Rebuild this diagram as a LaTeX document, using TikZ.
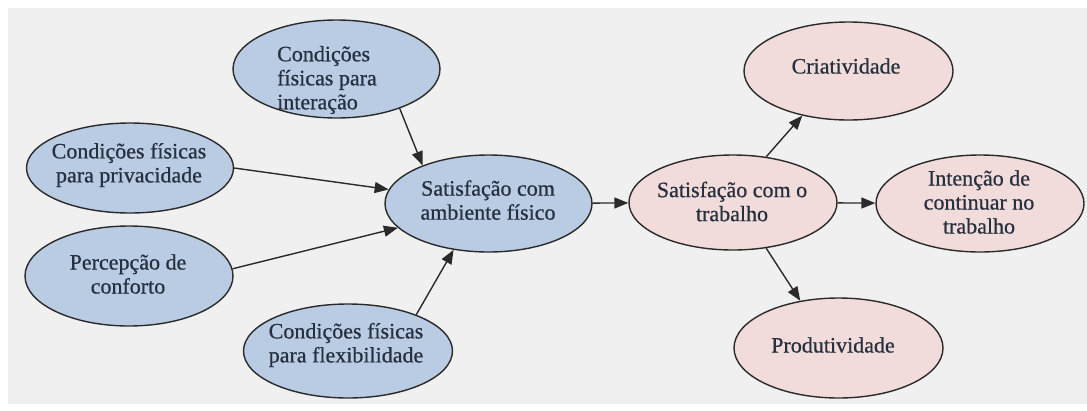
\documentclass[tikz,border=0pt]{standalone}
\usepackage{fontspec}
\setmainfont{Liberation Serif}
\newfontfamily\diagfont{Liberation Serif}[FakeBold=0.7]
\usetikzlibrary{shapes.geometric,arrows.meta}
\definecolor{bgc}{HTML}{F0F0F0}
\definecolor{bluef}{HTML}{B9CCE4}
\definecolor{pinkf}{HTML}{F2DCDB}
\definecolor{edgec}{HTML}{2A2A2A}
\definecolor{txtc}{HTML}{27303F}
\tikzset{
  oval/.style={ellipse, draw=edgec, line width=1.4pt, inner sep=0pt},
  bluenode/.style={oval, fill=bluef},
  pinknode/.style={oval, fill=pinkf},
  txt/.style={inner sep=0pt, align=center, text=txtc, font=\diagfont\fontsize{22}{24}\selectfont},
  conn/.style={draw=edgec, line width=1.4pt, -{Triangle[length=14pt,width=11pt]}}
}
\begin{document}
\begin{tikzpicture}[x=1pt,y=-1pt]
\useasboundingbox (0,0) rectangle (1087,410);
\fill[white] (0,0) rectangle (1087,410);
\fill[bgc] (8,8) rectangle (1087,404);
% ellipses
\node[bluenode, minimum width=207pt, minimum height=98pt] (inter) at (336.5,69) {};
\node[bluenode, minimum width=207pt, minimum height=90pt] (priv) at (130,168) {};
\node[bluenode, minimum width=208pt, minimum height=100pt] (conf) at (129,276) {};
\node[bluenode, minimum width=209pt, minimum height=94pt] (flex) at (348,351) {};
\node[bluenode, minimum width=207pt, minimum height=97pt] (amb) at (488.5,203.5) {};
\node[pinknode, minimum width=208pt, minimum height=95pt] (trab) at (733,202.5) {};
\node[pinknode, minimum width=209pt, minimum height=98pt] (cria) at (848.5,71) {};
\node[pinknode, minimum width=208pt, minimum height=97pt] (inten) at (980,203.5) {};
\node[pinknode, minimum width=209pt, minimum height=100pt] (prod) at (838.5,348) {};
% texts
\node[txt, anchor=west, align=left] (interT) at (277,80) {Condições\\físicas para\\interação};
\node[txt] (privT) at (129,165) {Condições físicas\\para privacidade};
\node[txt] (confT) at (128,274) {Percepção de\\conforto};
\node[txt] (flexT) at (346,345) {Condições físicas\\para flexibilidade};
\node[txt] (ambT) at (488,200) {Satisfação com\\ambiente físico};
\node[txt] (trabT) at (732,201.5) {Satisfação com o\\trabalho};
\node[txt] (criaT) at (846,66) {Criatividade};
\node[txt] (intenT) at (979,202) {Intenção de\\continuar no\\trabalho};
\node[txt] (prodT) at (833,345) {Produtividade};
% connectors
\draw[conn] (inter.-32.2) -- (amb.150.3);
\draw[conn] (priv.0) -- (amb.172.7);
\draw[conn] (conf.4.4) -- (amb.195.5);
\draw[conn] (flex.28.1) -- (amb.233);
\draw[conn] (amb) -- (trab);
\draw[conn] (trab.54.4) -- (cria.224.1);
\draw[conn] (trab) -- (inten);
\draw[conn] (trab.-54.4) -- (prod.129);
\end{tikzpicture}
\end{document}
